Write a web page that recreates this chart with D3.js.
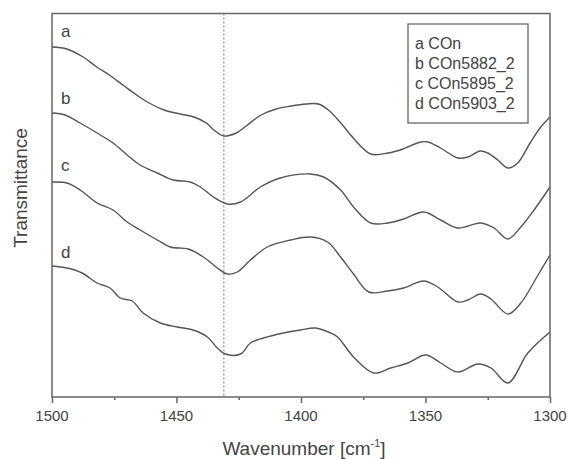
<!DOCTYPE html>
<html lang="en">
<head>
    <meta charset="UTF-8">
    <script src="https://d3js.org/d3.v7.min.js"></script>
    <style>
        body {
            margin: 0;
            background: white;
            font-family: "Liberation Sans", Arial, sans-serif;
        }
        .frame { fill: none; stroke: #666; stroke-width: 1.5px; }
        .spectrum { fill: none; stroke: #555; stroke-width: 1.4px; }
        .tick-label { font-size: 15px; fill: #444; }
        .title { font-size: 19px; fill: #444; }
        .curve-label { font-size: 17px; fill: #444; }
        .legend-text { font-size: 16px; fill: #444; }
    </style>
</head>
<body>
    <div id="chart"></div>

    <script>
        // wavenumber (cm-1) / transmittance (arbitrary units, stacked)
        const waveA  = [1500, 1494, 1487.5, 1482, 1477, 1471, 1466, 1461, 1455, 1448.5, 1443, 1438, 1435, 1431, 1426, 1422, 1416, 1410, 1404, 1398, 1393, 1389, 1384, 1379, 1372, 1365, 1359, 1352, 1349, 1344, 1337, 1333, 1328, 1325, 1321, 1317, 1313, 1308, 1304, 1300];
        const transA = [350, 348, 340, 330, 322, 311, 302, 294, 287, 283, 280, 274, 267, 261, 264, 271, 282, 288, 291, 293, 293, 287, 274, 259, 243, 244, 248, 255, 255, 249, 239, 240, 246, 244, 237, 229, 234, 254, 269, 280];

        const waveB  = [1500, 1494.8, 1488.7, 1481.9, 1475.5, 1469.8, 1464.6, 1457.7, 1451.3, 1444.5, 1440.4, 1435.2, 1429.6, 1424.3, 1416.3, 1408.3, 1396.2, 1390.9, 1384.1, 1378.9, 1372, 1365.2, 1358.8, 1350.7, 1343.9, 1337, 1327.8, 1322.5, 1316.9, 1311.7, 1306.4, 1300];
        const transB = [284, 282, 274, 264, 254, 242, 232, 224, 217, 215, 210, 200, 193, 195, 210, 219, 223, 220, 207, 190, 174, 174, 178, 185, 177, 169, 174, 169, 158, 170, 187, 210];

        const waveC  = [1500, 1494, 1488.7, 1481.9, 1475.5, 1469.8, 1464.6, 1457.7, 1452.5, 1445.3, 1439.2, 1433.6, 1429.6, 1425.6, 1420.3, 1413.5, 1404.2, 1396.2, 1389.3, 1384.1, 1378.9, 1372.8, 1365.2, 1358.8, 1350.7, 1345.1, 1337, 1333, 1327.8, 1323.7, 1316.9, 1311.7, 1304.8, 1300];
        const transC = [215, 214, 207, 194, 187, 175, 167, 157, 150, 148, 140, 129, 123, 125, 137, 150, 157, 160, 155, 140, 123, 105, 106, 109, 116, 110, 95, 97, 103, 98, 83, 94, 122, 142];

        const waveD  = [1500, 1494, 1487.9, 1481.9, 1476.7, 1472.6, 1467.8, 1463.4, 1456.5, 1449.7, 1443.3, 1437.6, 1433.6, 1430.4, 1424.3, 1420.3, 1415.1, 1407, 1400.2, 1394.2, 1388.1, 1385.3, 1378.9, 1370.8, 1364, 1357.1, 1349.9, 1343.9, 1337, 1329, 1323.7, 1316.9, 1308.9, 1300];
        const transD = [131, 129, 124, 114, 109, 99, 96, 84, 74, 70, 67, 60, 49, 43, 43, 54, 59, 64, 67, 69, 64, 60, 40, 24, 29, 34, 42, 34, 25, 33, 29, 14, 44, 65];

        const curveNames   = ["a", "b", "c", "d"];
        const legendLabels = ["a COn", "b COn5882_2", "c COn5895_2", "d COn5903_2"];
        const xTicks       = [1500, 1450, 1400, 1350, 1300];
        const xMinorTicks  = [1475, 1425, 1375, 1325];
        const markerWave   = 1431;

        const series = [
            {name: "a", wave: waveA, trans: transA},
            {name: "b", wave: waveB, trans: transB},
            {name: "c", wave: waveC, trans: transC},
            {name: "d", wave: waveD, trans: transD}
        ];

        const margin = {top: 13.5, right: 17, bottom: 62, left: 52},
            width = 567 - margin.left - margin.right,
            height = 459 - margin.top - margin.bottom;

        const svg = d3.select("#chart")
            .append("svg")
            .attr("width", 567)
            .attr("height", 459)
            .append("g")
            .attr("transform", `translate(${margin.left},${margin.top})`);

        const x = d3.scaleLinear().domain([1500, 1300]).range([0, width]);
        const y = d3.scaleLinear().domain([0, 383.5]).range([height, 0]);

        // dotted marker line
        svg.append("line")
            .attr("x1", x(markerWave)).attr("x2", x(markerWave))
            .attr("y1", 0).attr("y2", height)
            .attr("stroke", "#aaa")
            .attr("stroke-width", 1.6)
            .attr("stroke-dasharray", "2,2");

        const line = d3.line()
            .x(d => x(d[0]))
            .y(d => y(d[1]))
            .curve(d3.curveCatmullRom.alpha(0.5));

        svg.selectAll(".spectrum")
            .data(series)
            .enter()
            .append("path")
            .attr("class", "spectrum")
            .attr("d", s => line(d3.zip(s.wave, s.trans)));

        // curve letters just above each trace start
        const letterY = [37, 104, 171, 258];
        svg.selectAll(".curve-label")
            .data(curveNames)
            .enter()
            .append("text")
            .attr("class", "curve-label")
            .attr("x", 9)
            .attr("y", (d, i) => letterY[i] - margin.top)
            .text(d => d);

        // x axis: major + minor ticks pointing outward
        const xAxis = svg.append("g")
            .attr("transform", `translate(0,${height})`)
            .call(d3.axisBottom(x).tickValues(xTicks).tickSize(6).tickFormat(""));
        xAxis.select(".domain").remove();
        xAxis.selectAll("line").attr("stroke", "#666").attr("stroke-width", 1.5);

        const xMinor = svg.append("g")
            .attr("transform", `translate(0,${height})`)
            .call(d3.axisBottom(x).tickValues(xMinorTicks).tickSize(3).tickFormat(""));
        xMinor.select(".domain").remove();
        xMinor.selectAll("line").attr("stroke", "#666").attr("stroke-width", 1.5);

        svg.selectAll(".tick-label")
            .data(xTicks)
            .enter()
            .append("text")
            .attr("class", "tick-label")
            .attr("x", d => x(d))
            .attr("y", height + 24)
            .attr("text-anchor", "middle")
            .text(d => d);

        svg.append("rect")
            .attr("class", "frame")
            .attr("width", width)
            .attr("height", height);

        // axis titles
        const xTitle = svg.append("text")
            .attr("class", "title")
            .attr("x", width / 2 + 3)
            .attr("y", height + 58)
            .attr("text-anchor", "middle");
        xTitle.append("tspan").text("Wavenumber [cm");
        xTitle.append("tspan").attr("font-size", "11px").attr("dy", -8).text("-1");
        xTitle.append("tspan").attr("dy", 8).text("]");

        svg.append("text")
            .attr("class", "title")
            .attr("transform", `translate(${27 - margin.left},${188 - margin.top}) rotate(-90)`)
            .attr("text-anchor", "middle")
            .text("Transmittance");

        // legend
        const legend = svg.append("g")
            .attr("transform", `translate(${408 - margin.left},${24 - margin.top})`);
        legend.append("rect")
            .attr("width", 120)
            .attr("height", 99)
            .attr("fill", "white")
            .attr("stroke", "#666")
            .attr("stroke-width", 1.3);
        legend.selectAll("text")
            .data(legendLabels)
            .enter()
            .append("text")
            .attr("class", "legend-text")
            .attr("x", 7)
            .attr("y", (d, i) => 24.5 + i * 20)
            .text(d => d);
    </script>
</body>
</html>
